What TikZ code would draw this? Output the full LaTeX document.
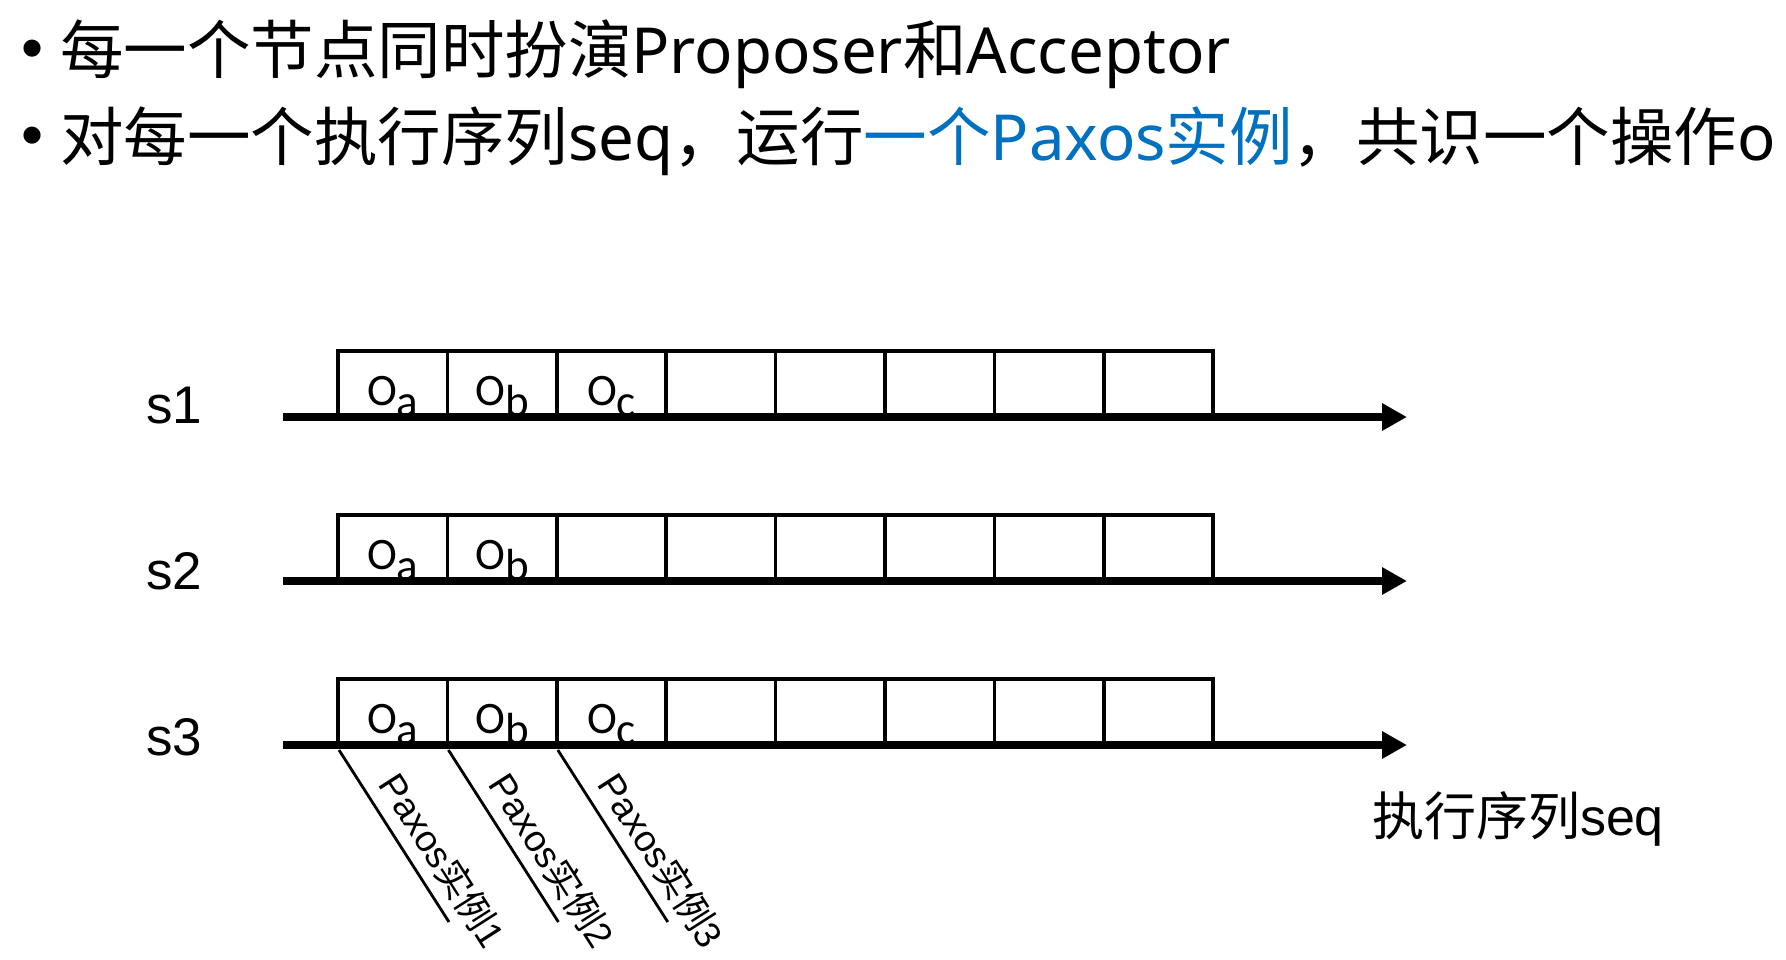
\documentclass[tikz,border=0pt]{standalone}
\usepackage{fontspec}
\setmainfont{Liberation Sans}
\newfontfamily\cjk{Noto Sans CJK SC}
\newfontfamily\seg{Noto Sans}
\newfontfamily\calfont{Carlito}
\usetikzlibrary{arrows.meta}
\definecolor{pblue}{RGB}{0,112,192}
\begin{document}
\begin{tikzpicture}[x=1pt,y=-1pt,
  txt/.style={inner sep=0pt, outer sep=0pt},
  title/.style={txt, anchor=base west, font=\fontsize{63.5}{70}\selectfont\cjk},
  bul/.style={txt, font=\fontsize{63}{70}\selectfont},
  cell/.style={draw, line width=3.5pt, minimum width=109.4pt, minimum height=66pt, inner sep=0pt, outer sep=0pt},
  axisarrow/.style={line width=8.5pt, -{Triangle[length=25pt,width=26pt]}},
  oplabel/.style={txt, anchor=base, font=\fontsize{45}{50}\selectfont\calfont},
  slabel/.style={txt, anchor=base west, font=\fontsize{53}{60}\selectfont},
  instline/.style={line width=2.8pt},
  instlabel/.style={txt, rotate=-57.4, font=\fontsize{37}{40}\selectfont},
]
\fill[white] (0,0) rectangle (1786,960);
\useasboundingbox (0,0) rectangle (1786,960);

% title
\node[bul] (b1) at (33,55) {•};
\node[bul] (b2) at (33,142) {•};
\node[title] (t1) at (60,74) {每一个节点同时扮演{\seg Proposer}和{\seg Acceptor}};
\node[title] (t2) at (60,161) {对每一个执行序列{\seg seq}，运行{\color{pblue}一个{\seg Paxos}实例}，共识一个操作{\seg o}};

% rows
\foreach \r/\y/\by in {1/417/423,2/581/589,3/745/755} {
  \foreach \i in {0,...,7} {
    \node[cell] (c\r-\i) at ({392.7+109.4*\i}, {\y-33}) {};
  }
  \coordinate (a\r s) at (283,\y);
  \coordinate (a\r e) at (1407,\y);
  \draw[axisarrow] (a\r s) -- (a\r e);
  \node[slabel] (s\r) at (146,\by) {s\r};
}

% operation labels
\foreach \r/\y in {1/417,2/581,3/745} {
  \node[oplabel] (l\r-a) at (392.7,\y-12) {O\raisebox{-11pt}{a}};
  \node[oplabel] (l\r-b) at (502.1,\y-12) {O\raisebox{-11pt}{b}};
}
\node[oplabel] (l1-c) at (611.5,405) {O\raisebox{-11pt}{c}};
\node[oplabel] (l3-c) at (611.5,733) {O\raisebox{-11pt}{c}};

% Paxos instances
\foreach \i/\n in {0/1,1/2,2/3} {
  \coordinate (p\n s) at ({339+109.4*\i},750);
  \coordinate (p\n e) at ({339+109.4*\i+110},922);
  \draw[instline] (p\n s) -- (p\n e);
  \node[instlabel] (pl\n) at ({339+109.4*\i+104},860) {Paxos{\cjk 实例}\n};
}

\node[txt, anchor=base west, font=\fontsize{52}{58}\selectfont] (seq) at (1372,835) {{\cjk 执行序列}seq};
\end{tikzpicture}
\end{document}
